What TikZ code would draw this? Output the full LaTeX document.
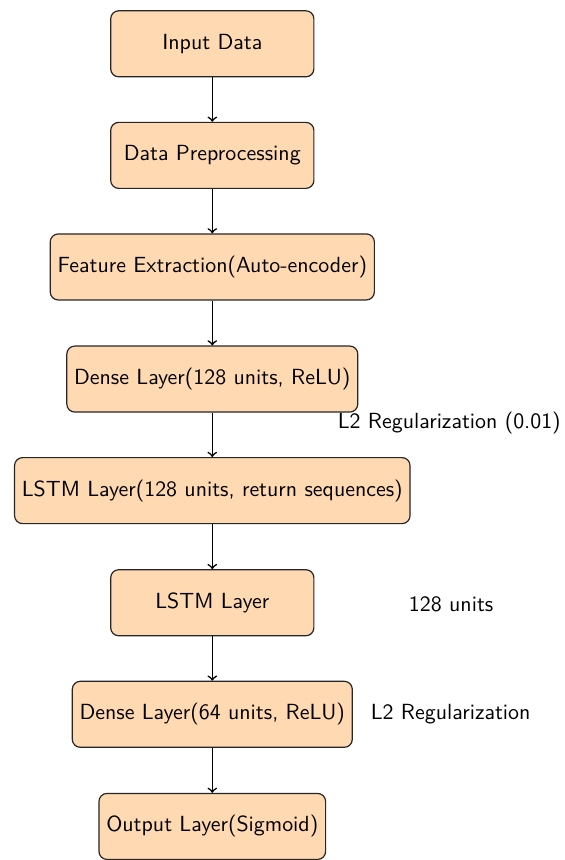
\documentclass[tikz,border=0pt,11pt]{standalone}
\usepackage{tikz}

\tikzset{
  layer/.style={draw=black!85, semithick, rounded corners, fill=orange!30, minimum width=3.57cm,
    minimum height=1.16cm, align=center, font=\sffamily},
  note/.style={font=\sffamily},
  link/.style={->, thick}
}

\begin{document}
\begin{tikzpicture}
\useasboundingbox (0,0) rectangle (9.91,-15.11);
    \node[layer] (input) at (3.73,-0.77) {Input Data};
    \node[layer] (prep) at (3.73,-2.73) {Data Preprocessing};
    \node[layer] (feat) at (3.73,-4.69) {Feature Extraction(Auto-encoder)};
    \node[layer] (dense1) at (3.73,-6.66) {Dense Layer(128 units, ReLU)};
    \node[layer] (lstm1) at (3.73,-8.62) {LSTM Layer(128 units, return sequences)};
    \node[layer] (lstm2) at (3.73,-10.59) {LSTM Layer};
    \node[layer] (dense2) at (3.73,-12.55) {Dense Layer(64 units, ReLU)};
    \node[layer] (output) at (3.73,-14.52) {Output Layer(Sigmoid)};

    \node[note, anchor=base west] (reg1) at (5.80,-7.52) {L2 Regularization (0.01)};
    \node[note, anchor=west] (units) at (7.05,-10.61) {128 units};
    \node[note, anchor=west] (reg2) at (6.38,-12.55) {L2 Regularization};

    \draw[link] (input) -- (prep);
    \draw[link] (prep) -- (feat);
    \draw[link] (feat) -- (dense1);
    \draw[link] (dense1) -- (lstm1);
    \draw[link] (lstm1) -- (lstm2);
    \draw[link] (lstm2) -- (dense2);
    \draw[link] (dense2) -- (output);
\end{tikzpicture}
\end{document}
